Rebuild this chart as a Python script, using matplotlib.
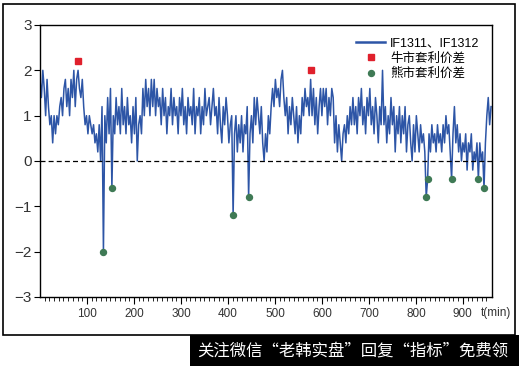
import numpy as np
import matplotlib
matplotlib.use("Agg")
import matplotlib.pyplot as plt
from matplotlib.patches import Rectangle

plt.rcParams['font.family'] = ['Liberation Sans', 'Noto Sans CJK SC', 'DejaVu Sans']

# spread IF1311/IF1312, one value every 3 minutes
spread = [
    1.8, 1.4, 2.0, 1.6, 1.0, 1.8, 1.2, 0.8, 1.0, 0.4, 1.0, 0.6, 1.0, 0.8, 1.2, 1.4, 1.0, 1.6, 1.8, 1.2,
    1.6, 1.0, 1.8, 1.4, 2.0, 1.2, 1.8, 2.0, 1.6, 1.4, 1.8, 1.2, 0.8, 1.0, 0.6, 1.0, 0.8, 0.6, 0.8, 0.4,
    0.6, 0.2, 0.8, 0.0, 1.2, -2.0, 1.0, 0.4, 1.4, 0.6, 1.6, -0.6, 1.0, 0.6, 1.4, 0.8, 1.2, 0.6, 1.6, 0.8,
    1.2, 0.6, 1.4, 0.8, 1.0, 0.4, 1.2, 0.6, 1.4, 0.0, 0.8, 1.0, 0.6, 1.6, 1.0, 1.8, 1.2, 1.6, 1.0, 1.8,
    1.2, 1.8, 1.0, 1.6, 1.2, 1.4, 0.8, 1.6, 1.0, 1.4, 0.6, 1.2, 1.0, 1.6, 0.8, 1.4, 1.0, 1.2, 0.6, 1.4,
    1.0, 1.6, 0.8, 1.2, 0.6, 1.4, 1.0, 1.2, 0.8, 1.6, 0.6, 1.2, 1.0, 1.4, 0.6, 1.2, 0.8, 1.6, 1.0, 1.2,
    1.4, 0.8, 1.2, 1.6, 1.0, 1.2, 0.6, 1.4, 0.8, 0.4, 1.2, 0.8, 1.4, 1.0, 0.4, 0.8, 1.0, -1.2, 0.6, 1.0,
    0.2, 0.8, 0.4, 1.0, 0.2, 0.8, 0.6, 1.2, -0.8, 0.6, 1.0, 0.4, 1.4, 0.8, 1.4, 1.0, 0.6, 1.2, 0.4, 0.0,
    0.6, 0.2, 1.0, 0.6, 1.2, 1.6, 1.2, 1.8, 1.4, 1.6, 1.2, 1.8, 2.0, 1.4, 1.0, 1.4, 0.6, 1.2, 0.8, 1.4,
    1.0, 0.6, 1.2, 0.4, 1.0, 0.6, 1.4, 1.0, 1.6, 1.2, 1.4, 1.0, 1.8, 1.0, 1.6, 0.8, 1.4, 0.6, 1.2, 1.6,
    1.0, 1.6, 1.2, 1.6, 0.8, 1.4, 1.0, 1.6, 1.4, 0.4, 1.0, 0.2, 0.8, 0.4, 0.0, 0.6, 0.8, 0.4, 1.0, 0.6,
    1.2, 0.8, 1.4, 0.8, 1.2, 0.6, 1.4, 1.0, 1.6, 0.8, 1.2, 0.6, 1.4, 1.0, 1.6, 0.8, 1.2, 0.6, 1.4, 1.0,
    0.4, 1.2, 0.8, 2.0, 0.8, 1.2, 0.4, 1.0, 0.6, 1.4, 0.8, 1.2, 0.2, 1.0, 0.6, 1.2, 0.4, 1.0, 0.6, 1.2,
    0.2, 0.8, 1.0, 0.4, 0.0, 0.8, 0.2, 1.0, 0.6, 0.2, 0.8, 0.4, 0.6, 0.2, -0.8, -0.4, 0.6, 0.2, 0.8, 0.4,
    0.6, 0.2, 0.8, 0.4, 0.6, 0.2, 0.8, 0.4, 1.0, 0.6, 0.8, 0.2, -0.4, 0.6, 1.2, 0.4, 0.8, 0.2, 0.6, 0.0,
    0.4, 0.2, 0.6, -0.2, 0.4, 0.2, 0.6, -0.2, 0.2, 0.0, 0.4, -0.4, 0.4, 0.0, 0.2, -0.6, 0.4, 1.0, 1.4, 0.8,
    1.2,
]
t = np.arange(len(spread)) * 3

bull_t = [81, 576]
bull_v = [2.2, 2.0]
bear_t = [135, 153, 411, 444, 822, 825, 876, 933, 945]
bear_v = [-2.0, -0.6, -1.2, -0.8, -0.8, -0.4, -0.4, -0.4, -0.6]

labels = ['IF1311、IF1312', '牛市套利价差', '熊市套利价差']

fig = plt.figure(figsize=(5.19, 3.66), dpi=100)
ax = fig.add_axes([40 / 519, 69 / 366, 452 / 519, 272 / 366])

ax.plot(t, spread, color='#2d55a6', lw=1.1, label=labels[0])
ax.plot(bull_t, bull_v, 's', color='#e0202c', ms=4.3, label=labels[1])
ax.plot(bear_t, bear_v, 'o', color='#3f7a55', ms=4.3, label=labels[2])
ax.axhline(0, color='black', lw=0.9, ls=(0, (4, 2.5)))

ax.set_xlim(0, 962)
ax.set_ylim(-3, 3)
ax.set_xticks([100, 200, 300, 400, 500, 600, 700, 800, 900])
ax.set_xticks(np.arange(10, 960, 10), minor=True)
ax.set_yticks([-3, -2, -1, 0, 1, 2, 3])
ax.tick_params(axis='x', which='major', length=5, labelsize=8.5, colors='black', labelcolor='#333333', pad=3)
ax.tick_params(axis='x', which='minor', length=3)
ax.tick_params(axis='y', length=4, labelsize=11, labelcolor='#333333', pad=2)
for s in ax.spines.values():
    s.set_linewidth(1.0)

ax.text(0.976, -0.06, 't(min)', transform=ax.transAxes, fontsize=8.5, color='#333333',
        ha='left', va='center')

leg = ax.legend(loc='upper right', frameon=False, fontsize=9, handlelength=2.3,
                labelspacing=0.25, handletextpad=0.4, borderaxespad=0.6)
leg.get_lines()[0].set_linewidth(1.8)

# outer frame
fig.patches.append(Rectangle((3 / 519, 31 / 366), 512 / 519, 331 / 366, transform=fig.transFigure,
                             fill=False, edgecolor='black', lw=1.2))
# watermark strip
fig.patches.append(Rectangle((190 / 519, 0), 329 / 519, 31 / 366, transform=fig.transFigure,
                             facecolor='black', edgecolor='none'))
fig.text(197 / 519, 15 / 366, '关注微信“老韩实盘”回复“指标”免费领', color='white', fontsize=11.8,
         family=['Noto Sans CJK SC', 'DejaVu Sans'], ha='left', va='center')

fig.savefig('out.png', dpi=100)
